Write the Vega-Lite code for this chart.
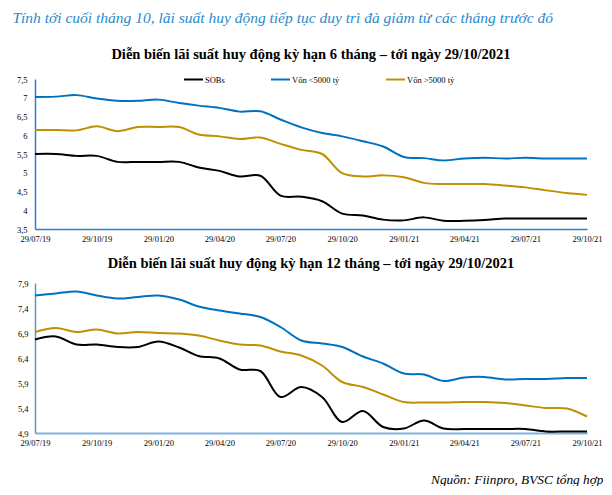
{
"$schema": "https://vega.github.io/schema/vega-lite/v6.json",
"background": "white",
"padding": {"left": 12, "top": 11, "right": 0, "bottom": 0},
"title": {"text": "Tính tới cuối tháng 10, lãi suất huy động tiếp tục duy trì đà giảm từ các tháng trước đó", "anchor": "start", "dx": -4, "font": "Liberation Serif", "fontSize": 15.5, "fontStyle": "italic", "fontWeight": "normal", "color": "#2B8ACB", "offset": 20},
"config": {"view": {"stroke": null}},
"spacing": 12,
"vconcat": [
{
"data": {"name": "m6"},
"title": {"text": "Diễn biến lãi suất huy động kỳ hạn 6 tháng – tới ngày 29/10/2021", "font": "Liberation Serif", "fontSize": 14.5, "fontWeight": "bold", "color": "#000000", "anchor": "middle", "offset": 13},
"width": 552, "height": 150,
"mark": {"type": "line", "interpolate": "catmull-rom", "strokeWidth": 2},
"encoding": {
"x": {"field": "d", "type": "temporal", "scale": {"domain": [{"year": 2019, "month": 7, "date": 29}, {"year": 2021, "month": 10, "date": 29}]},
"axis": {"title": null, "values": [{"year": 2019, "month": 7, "date": 29}, {"year": 2019, "month": 10, "date": 29}, {"year": 2020, "month": 1, "date": 29}, {"year": 2020, "month": 4, "date": 29}, {"year": 2020, "month": 7, "date": 29}, {"year": 2020, "month": 10, "date": 29}, {"year": 2021, "month": 1, "date": 29}, {"year": 2021, "month": 4, "date": 29}, {"year": 2021, "month": 7, "date": 29}, {"year": 2021, "month": 10, "date": 29}], "format": "%d/%m/%y", "labelFlush": false, "labelOverlap": false, "ticks": false, "grid": false, "domainColor": "#2E7FC8", "domainWidth": 1.5, "labelFont": "Liberation Serif", "labelFontSize": 8.5, "labelColor": "#000000", "labelPadding": 5}},
"y": {"field": "v", "type": "quantitative", "scale": {"domain": [3.5, 7.5], "zero": false, "nice": false},
"axis": {"title": null, "values": [3.5, 4, 4.5, 5, 5.5, 6, 6.5, 7, 7.5], "labelExpr": "replace(format(datum.value, '.2~f'), '.', ',')", "ticks": false, "grid": false, "domainColor": "#2E7FC8", "domainWidth": 1.5, "labelFont": "Liberation Serif", "labelFontSize": 8.5, "labelColor": "#000000", "labelPadding": 8}},
"color": {"field": "s", "type": "nominal", "scale": {"domain": ["SOBs", "Vốn <5000 tỷ", "Vốn >5000 tỷ"], "range": ["#000000", "#0070C0", "#BF9000"]},
"legend": {"title": null, "orient": "none", "legendX": 148, "legendY": -10, "direction": "horizontal", "symbolType": "stroke", "symbolSize": 361, "symbolStrokeWidth": 2, "labelFont": "Liberation Serif", "labelFontSize": 8.5, "labelColor": "#000000", "labelOffset": 1, "columnPadding": 42}}
}
},
{
"data": {"name": "m12"},
"title": {"text": "Diễn biến lãi suất huy động kỳ hạn 12 tháng – tới ngày 29/10/2021", "font": "Liberation Serif", "fontSize": 14.5, "fontWeight": "bold", "color": "#000000", "anchor": "middle", "offset": 8},
"width": 552, "height": 150,
"mark": {"type": "line", "interpolate": "catmull-rom", "strokeWidth": 2},
"encoding": {
"x": {"field": "d", "type": "temporal", "scale": {"domain": [{"year": 2019, "month": 7, "date": 29}, {"year": 2021, "month": 10, "date": 29}]},
"axis": {"title": "Nguồn: Fiinpro, BVSC tổng hợp", "titleFont": "Liberation Serif", "titleFontStyle": "italic", "titleFontWeight": "normal", "titleFontSize": 13.3, "titleColor": "#000000", "titleAlign": "right", "titleAnchor": "end", "titleBaseline": "alphabetic", "titleX": 568, "titleY": 50, "values": [{"year": 2019, "month": 7, "date": 29}, {"year": 2019, "month": 10, "date": 29}, {"year": 2020, "month": 1, "date": 29}, {"year": 2020, "month": 4, "date": 29}, {"year": 2020, "month": 7, "date": 29}, {"year": 2020, "month": 10, "date": 29}, {"year": 2021, "month": 1, "date": 29}, {"year": 2021, "month": 4, "date": 29}, {"year": 2021, "month": 7, "date": 29}, {"year": 2021, "month": 10, "date": 29}], "format": "%d/%m/%y", "labelFlush": false, "labelOverlap": false, "ticks": false, "grid": false, "domainColor": "#7EB3E2", "domainWidth": 2.2, "labelFont": "Liberation Serif", "labelFontSize": 8.5, "labelColor": "#000000", "labelPadding": 5}},
"y": {"field": "v", "type": "quantitative", "scale": {"domain": [4.9, 7.9], "zero": false, "nice": false},
"axis": {"title": null, "values": [4.9, 5.4, 5.9, 6.4, 6.9, 7.4, 7.9], "labelExpr": "replace(format(datum.value, '.2~f'), '.', ',')", "ticks": false, "grid": false, "domainColor": "#4A9AD8", "domainWidth": 1.5, "labelFont": "Liberation Serif", "labelFontSize": 8.5, "labelColor": "#000000", "labelPadding": 7}},
"color": {"field": "s", "type": "nominal", "scale": {"domain": ["SOBs", "Vốn <5000 tỷ", "Vốn >5000 tỷ"], "range": ["#000000", "#0070C0", "#BF9000"]},
"legend": {"title": null, "orient": "none", "legendX": 174, "legendY": -6, "direction": "horizontal", "symbolType": "stroke", "symbolSize": 361, "symbolStrokeWidth": 2, "labelFont": "Liberation Serif", "labelFontSize": 8.5, "labelColor": "#000000", "labelOffset": 1, "columnPadding": 38}}
}
}
],
"datasets": {
"m6": [
{"d": "2019/07/29", "s": "SOBs", "v": 5.50}, {"d": "2019/08/29", "s": "SOBs", "v": 5.50}, {"d": "2019/09/29", "s": "SOBs", "v": 5.45}, {"d": "2019/10/29", "s": "SOBs", "v": 5.45}, {"d": "2019/11/29", "s": "SOBs", "v": 5.29}, {"d": "2019/12/29", "s": "SOBs", "v": 5.29}, {"d": "2020/01/29", "s": "SOBs", "v": 5.29}, {"d": "2020/02/29", "s": "SOBs", "v": 5.29}, {"d": "2020/03/29", "s": "SOBs", "v": 5.14}, {"d": "2020/04/29", "s": "SOBs", "v": 5.05}, {"d": "2020/05/29", "s": "SOBs", "v": 4.90}, {"d": "2020/06/29", "s": "SOBs", "v": 4.92}, {"d": "2020/07/29", "s": "SOBs", "v": 4.39}, {"d": "2020/08/29", "s": "SOBs", "v": 4.36}, {"d": "2020/09/29", "s": "SOBs", "v": 4.24}, {"d": "2020/10/29", "s": "SOBs", "v": 3.91}, {"d": "2020/11/29", "s": "SOBs", "v": 3.86}, {"d": "2020/12/29", "s": "SOBs", "v": 3.75}, {"d": "2021/01/29", "s": "SOBs", "v": 3.73}, {"d": "2021/02/28", "s": "SOBs", "v": 3.81}, {"d": "2021/03/29", "s": "SOBs", "v": 3.72}, {"d": "2021/04/29", "s": "SOBs", "v": 3.72}, {"d": "2021/05/29", "s": "SOBs", "v": 3.74}, {"d": "2021/06/29", "s": "SOBs", "v": 3.78}, {"d": "2021/07/29", "s": "SOBs", "v": 3.78}, {"d": "2021/08/29", "s": "SOBs", "v": 3.78}, {"d": "2021/09/29", "s": "SOBs", "v": 3.78}, {"d": "2021/10/29", "s": "SOBs", "v": 3.78},
{"d": "2019/07/29", "s": "Vốn <5000 tỷ", "v": 7.02}, {"d": "2019/08/29", "s": "Vốn <5000 tỷ", "v": 7.03}, {"d": "2019/09/29", "s": "Vốn <5000 tỷ", "v": 7.07}, {"d": "2019/10/29", "s": "Vốn <5000 tỷ", "v": 6.98}, {"d": "2019/11/29", "s": "Vốn <5000 tỷ", "v": 6.92}, {"d": "2019/12/29", "s": "Vốn <5000 tỷ", "v": 6.92}, {"d": "2020/01/29", "s": "Vốn <5000 tỷ", "v": 6.95}, {"d": "2020/02/29", "s": "Vốn <5000 tỷ", "v": 6.86}, {"d": "2020/03/29", "s": "Vốn <5000 tỷ", "v": 6.79}, {"d": "2020/04/29", "s": "Vốn <5000 tỷ", "v": 6.73}, {"d": "2020/05/29", "s": "Vốn <5000 tỷ", "v": 6.63}, {"d": "2020/06/29", "s": "Vốn <5000 tỷ", "v": 6.64}, {"d": "2020/07/29", "s": "Vốn <5000 tỷ", "v": 6.42}, {"d": "2020/08/29", "s": "Vốn <5000 tỷ", "v": 6.21}, {"d": "2020/09/29", "s": "Vốn <5000 tỷ", "v": 6.06}, {"d": "2020/10/29", "s": "Vốn <5000 tỷ", "v": 5.97}, {"d": "2020/11/29", "s": "Vốn <5000 tỷ", "v": 5.84}, {"d": "2020/12/29", "s": "Vốn <5000 tỷ", "v": 5.70}, {"d": "2021/01/29", "s": "Vốn <5000 tỷ", "v": 5.42}, {"d": "2021/02/28", "s": "Vốn <5000 tỷ", "v": 5.39}, {"d": "2021/03/29", "s": "Vốn <5000 tỷ", "v": 5.33}, {"d": "2021/04/29", "s": "Vốn <5000 tỷ", "v": 5.38}, {"d": "2021/05/29", "s": "Vốn <5000 tỷ", "v": 5.40}, {"d": "2021/06/29", "s": "Vốn <5000 tỷ", "v": 5.38}, {"d": "2021/07/29", "s": "Vốn <5000 tỷ", "v": 5.40}, {"d": "2021/08/29", "s": "Vốn <5000 tỷ", "v": 5.38}, {"d": "2021/09/29", "s": "Vốn <5000 tỷ", "v": 5.38}, {"d": "2021/10/29", "s": "Vốn <5000 tỷ", "v": 5.38},
{"d": "2019/07/29", "s": "Vốn >5000 tỷ", "v": 6.14}, {"d": "2019/08/29", "s": "Vốn >5000 tỷ", "v": 6.14}, {"d": "2019/09/29", "s": "Vốn >5000 tỷ", "v": 6.13}, {"d": "2019/10/29", "s": "Vốn >5000 tỷ", "v": 6.24}, {"d": "2019/11/29", "s": "Vốn >5000 tỷ", "v": 6.11}, {"d": "2019/12/29", "s": "Vốn >5000 tỷ", "v": 6.22}, {"d": "2020/01/29", "s": "Vốn >5000 tỷ", "v": 6.22}, {"d": "2020/02/29", "s": "Vốn >5000 tỷ", "v": 6.22}, {"d": "2020/03/29", "s": "Vốn >5000 tỷ", "v": 6.02}, {"d": "2020/04/29", "s": "Vốn >5000 tỷ", "v": 5.97}, {"d": "2020/05/29", "s": "Vốn >5000 tỷ", "v": 5.90}, {"d": "2020/06/29", "s": "Vốn >5000 tỷ", "v": 5.94}, {"d": "2020/07/29", "s": "Vốn >5000 tỷ", "v": 5.77}, {"d": "2020/08/29", "s": "Vốn >5000 tỷ", "v": 5.61}, {"d": "2020/09/29", "s": "Vốn >5000 tỷ", "v": 5.50}, {"d": "2020/10/29", "s": "Vốn >5000 tỷ", "v": 4.99}, {"d": "2020/11/29", "s": "Vốn >5000 tỷ", "v": 4.90}, {"d": "2020/12/29", "s": "Vốn >5000 tỷ", "v": 4.93}, {"d": "2021/01/29", "s": "Vốn >5000 tỷ", "v": 4.88}, {"d": "2021/02/28", "s": "Vốn >5000 tỷ", "v": 4.73}, {"d": "2021/03/29", "s": "Vốn >5000 tỷ", "v": 4.70}, {"d": "2021/04/29", "s": "Vốn >5000 tỷ", "v": 4.70}, {"d": "2021/05/29", "s": "Vốn >5000 tỷ", "v": 4.70}, {"d": "2021/06/29", "s": "Vốn >5000 tỷ", "v": 4.66}, {"d": "2021/07/29", "s": "Vốn >5000 tỷ", "v": 4.61}, {"d": "2021/08/29", "s": "Vốn >5000 tỷ", "v": 4.53}, {"d": "2021/09/29", "s": "Vốn >5000 tỷ", "v": 4.46}, {"d": "2021/10/29", "s": "Vốn >5000 tỷ", "v": 4.41}
],
"m12": [
{"d": "2019/07/29", "s": "SOBs", "v": 6.77}, {"d": "2019/08/29", "s": "SOBs", "v": 6.83}, {"d": "2019/09/29", "s": "SOBs", "v": 6.67}, {"d": "2019/10/29", "s": "SOBs", "v": 6.67}, {"d": "2019/11/29", "s": "SOBs", "v": 6.62}, {"d": "2019/12/29", "s": "SOBs", "v": 6.62}, {"d": "2020/01/29", "s": "SOBs", "v": 6.73}, {"d": "2020/02/29", "s": "SOBs", "v": 6.61}, {"d": "2020/03/29", "s": "SOBs", "v": 6.44}, {"d": "2020/04/29", "s": "SOBs", "v": 6.39}, {"d": "2020/05/29", "s": "SOBs", "v": 6.17}, {"d": "2020/06/29", "s": "SOBs", "v": 6.14}, {"d": "2020/07/29", "s": "SOBs", "v": 5.62}, {"d": "2020/08/29", "s": "SOBs", "v": 5.82}, {"d": "2020/09/29", "s": "SOBs", "v": 5.62}, {"d": "2020/10/29", "s": "SOBs", "v": 5.12}, {"d": "2020/11/29", "s": "SOBs", "v": 5.34}, {"d": "2020/12/29", "s": "SOBs", "v": 5.02}, {"d": "2021/01/29", "s": "SOBs", "v": 4.99}, {"d": "2021/02/28", "s": "SOBs", "v": 5.15}, {"d": "2021/03/29", "s": "SOBs", "v": 4.99}, {"d": "2021/04/29", "s": "SOBs", "v": 4.98}, {"d": "2021/05/29", "s": "SOBs", "v": 4.98}, {"d": "2021/06/29", "s": "SOBs", "v": 4.98}, {"d": "2021/07/29", "s": "SOBs", "v": 4.98}, {"d": "2021/08/29", "s": "SOBs", "v": 4.93}, {"d": "2021/09/29", "s": "SOBs", "v": 4.93}, {"d": "2021/10/29", "s": "SOBs", "v": 4.93},
{"d": "2019/07/29", "s": "Vốn <5000 tỷ", "v": 7.65}, {"d": "2019/08/29", "s": "Vốn <5000 tỷ", "v": 7.69}, {"d": "2019/09/29", "s": "Vốn <5000 tỷ", "v": 7.73}, {"d": "2019/10/29", "s": "Vốn <5000 tỷ", "v": 7.65}, {"d": "2019/11/29", "s": "Vốn <5000 tỷ", "v": 7.59}, {"d": "2019/12/29", "s": "Vốn <5000 tỷ", "v": 7.62}, {"d": "2020/01/29", "s": "Vốn <5000 tỷ", "v": 7.65}, {"d": "2020/02/29", "s": "Vốn <5000 tỷ", "v": 7.57}, {"d": "2020/03/29", "s": "Vốn <5000 tỷ", "v": 7.43}, {"d": "2020/04/29", "s": "Vốn <5000 tỷ", "v": 7.35}, {"d": "2020/05/29", "s": "Vốn <5000 tỷ", "v": 7.29}, {"d": "2020/06/29", "s": "Vốn <5000 tỷ", "v": 7.22}, {"d": "2020/07/29", "s": "Vốn <5000 tỷ", "v": 7.02}, {"d": "2020/08/29", "s": "Vốn <5000 tỷ", "v": 6.75}, {"d": "2020/09/29", "s": "Vốn <5000 tỷ", "v": 6.69}, {"d": "2020/10/29", "s": "Vốn <5000 tỷ", "v": 6.62}, {"d": "2020/11/29", "s": "Vốn <5000 tỷ", "v": 6.43}, {"d": "2020/12/29", "s": "Vốn <5000 tỷ", "v": 6.29}, {"d": "2021/01/29", "s": "Vốn <5000 tỷ", "v": 6.09}, {"d": "2021/02/28", "s": "Vốn <5000 tỷ", "v": 6.07}, {"d": "2021/03/29", "s": "Vốn <5000 tỷ", "v": 5.94}, {"d": "2021/04/29", "s": "Vốn <5000 tỷ", "v": 6.01}, {"d": "2021/05/29", "s": "Vốn <5000 tỷ", "v": 6.02}, {"d": "2021/06/29", "s": "Vốn <5000 tỷ", "v": 5.97}, {"d": "2021/07/29", "s": "Vốn <5000 tỷ", "v": 5.98}, {"d": "2021/08/29", "s": "Vốn <5000 tỷ", "v": 5.98}, {"d": "2021/09/29", "s": "Vốn <5000 tỷ", "v": 6.00}, {"d": "2021/10/29", "s": "Vốn <5000 tỷ", "v": 6.00},
{"d": "2019/07/29", "s": "Vốn >5000 tỷ", "v": 6.92}, {"d": "2019/08/29", "s": "Vốn >5000 tỷ", "v": 7.00}, {"d": "2019/09/29", "s": "Vốn >5000 tỷ", "v": 6.92}, {"d": "2019/10/29", "s": "Vốn >5000 tỷ", "v": 6.97}, {"d": "2019/11/29", "s": "Vốn >5000 tỷ", "v": 6.89}, {"d": "2019/12/29", "s": "Vốn >5000 tỷ", "v": 6.92}, {"d": "2020/01/29", "s": "Vốn >5000 tỷ", "v": 6.90}, {"d": "2020/02/29", "s": "Vốn >5000 tỷ", "v": 6.89}, {"d": "2020/03/29", "s": "Vốn >5000 tỷ", "v": 6.85}, {"d": "2020/04/29", "s": "Vốn >5000 tỷ", "v": 6.75}, {"d": "2020/05/29", "s": "Vốn >5000 tỷ", "v": 6.67}, {"d": "2020/06/29", "s": "Vốn >5000 tỷ", "v": 6.65}, {"d": "2020/07/29", "s": "Vốn >5000 tỷ", "v": 6.53}, {"d": "2020/08/29", "s": "Vốn >5000 tỷ", "v": 6.45}, {"d": "2020/09/29", "s": "Vốn >5000 tỷ", "v": 6.25}, {"d": "2020/10/29", "s": "Vốn >5000 tỷ", "v": 5.92}, {"d": "2020/11/29", "s": "Vốn >5000 tỷ", "v": 5.82}, {"d": "2020/12/29", "s": "Vốn >5000 tỷ", "v": 5.67}, {"d": "2021/01/29", "s": "Vốn >5000 tỷ", "v": 5.52}, {"d": "2021/02/28", "s": "Vốn >5000 tỷ", "v": 5.51}, {"d": "2021/03/29", "s": "Vốn >5000 tỷ", "v": 5.51}, {"d": "2021/04/29", "s": "Vốn >5000 tỷ", "v": 5.52}, {"d": "2021/05/29", "s": "Vốn >5000 tỷ", "v": 5.52}, {"d": "2021/06/29", "s": "Vốn >5000 tỷ", "v": 5.50}, {"d": "2021/07/29", "s": "Vốn >5000 tỷ", "v": 5.45}, {"d": "2021/08/29", "s": "Vốn >5000 tỷ", "v": 5.40}, {"d": "2021/09/29", "s": "Vốn >5000 tỷ", "v": 5.39}, {"d": "2021/10/29", "s": "Vốn >5000 tỷ", "v": 5.23}
]
}
}
